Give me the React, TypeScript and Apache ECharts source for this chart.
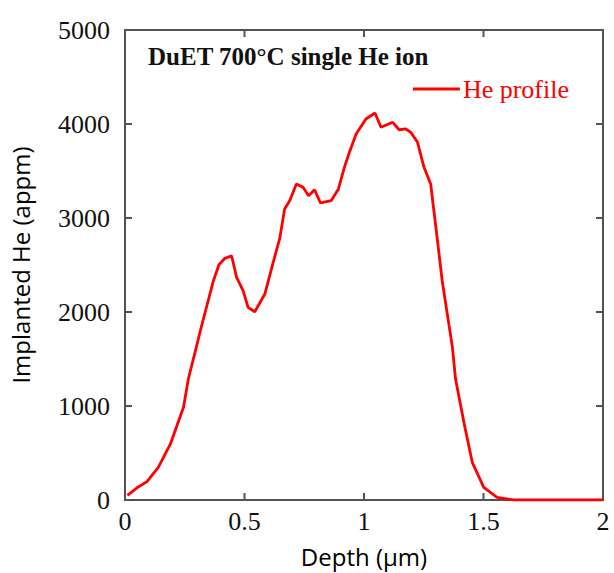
import React, { useEffect, useRef } from "react";
import * as echarts from "echarts";

const depth = [0.01, 0.05, 0.092, 0.14, 0.19, 0.245, 0.265, 0.3, 0.317, 0.37, 0.393, 0.418, 0.446, 0.467, 0.494, 0.515, 0.543, 0.585, 0.62, 0.647, 0.668, 0.689, 0.717, 0.745, 0.768, 0.793, 0.818, 0.8625, 0.893, 0.918, 0.939, 0.967, 1.008, 1.046, 1.071, 1.12, 1.147, 1.175, 1.196, 1.224, 1.251, 1.279, 1.3, 1.328, 1.37, 1.383, 1.418, 1.453, 1.501, 1.557, 1.626, 1.8, 2.0];
const helium = [50, 130, 195, 350, 596, 990, 1287, 1642, 1819, 2333, 2503, 2571, 2599, 2369, 2227, 2050, 2003, 2191, 2529, 2777, 3096, 3184, 3362, 3326, 3237, 3301, 3160, 3184, 3309, 3539, 3699, 3894, 4053, 4117, 3965, 4018, 3939, 3947, 3911, 3805, 3539, 3362, 2918, 2316, 1624, 1287, 826, 401, 135, 29, 0, 0, 0];

const xTicks = [0, 0.5, 1, 1.5, 2];
const yTicks = [0, 1000, 2000, 3000, 4000, 5000];
const seriesName = "He profile";
const titleText = "DuET 700°C single He ion";

export default function App() {
  const ref = useRef<HTMLDivElement>(null);
  useEffect(() => {
    if (!ref.current) return;
    const chart = echarts.init(ref.current, null, { renderer: "svg" });
    const frameColor = "#4f5256";
    const serif = "'Liberation Serif', 'Times New Roman', serif";
    const sans = "'Open Sans', 'Noto Sans', sans-serif";
    const xMin = xTicks[0];
    const xMax = xTicks[xTicks.length - 1];
    const yMin = yTicks[0];
    const yMax = yTicks[yTicks.length - 1];

    // Frame and inward ticks drawn as thin filled rectangles, positioned via the axes' scales
    const renderFrame = (_params: any, api: any) => {
      const [l, b] = api.coord([xMin, yMin]);
      const [r, t] = api.coord([xMax, yMax]);
      const w = 2;
      const tickLen = 7;
      const rect = (x: number, y: number, width: number, height: number) => ({
        type: "rect",
        shape: { x, y, width, height },
        style: { fill: frameColor },
      });
      const children: any[] = [
        rect(l - w / 2, t - w / 2, r - l + w, w),
        rect(l - w / 2, b - w / 2, r - l + w, w),
        rect(l - w / 2, t - w / 2, w, b - t + w),
        rect(r - w / 2, t - w / 2, w, b - t + w),
      ];
      xTicks.slice(1, -1).forEach((v) => {
        const [x] = api.coord([v, yMin]);
        children.push(rect(x - w / 2, b - tickLen, w, tickLen));
        children.push(rect(x - w / 2, t, w, tickLen));
      });
      yTicks.slice(1, -1).forEach((v) => {
        const [, y] = api.coord([xMin, v]);
        children.push(rect(l, y - w / 2, tickLen, w));
        children.push(rect(r - tickLen, y - w / 2, tickLen, w));
      });
      return { type: "group", children };
    };

    chart.setOption({
      animation: false,
      grid: { left: 123, right: 11, top: 30, bottom: 72 },
      title: {
        text: titleText,
        left: 143,
        top: 39,
        textStyle: { fontFamily: serif, fontSize: 25, fontWeight: "bold", color: "#111" },
      },
      legend: {
        data: [seriesName],
        right: 40,
        top: 71,
        itemWidth: 47,
        itemHeight: 3,
        itemGap: 4,
        icon: "rect",
        textStyle: { fontFamily: serif, fontSize: 26, color: "#ff0000", padding: [0, 0, 0, -2] },
      },
      xAxis: {
        type: "value",
        min: xMin,
        max: xMax,
        interval: 0.5,
        name: "Depth (μm)",
        nameLocation: "middle",
        nameGap: 44,
        nameTextStyle: { fontFamily: sans, fontSize: 24, color: "#000" },
        axisLabel: { fontFamily: serif, fontSize: 26, color: "#111", margin: 8 },
        axisLine: { show: false },
        axisTick: { show: false },
        splitLine: { show: false },
      },
      yAxis: {
        type: "value",
        min: yMin,
        max: yMax,
        interval: 1000,
        name: "Implanted He (appm)",
        nameLocation: "middle",
        nameGap: 93,
        nameRotate: 90,
        nameTextStyle: { fontFamily: sans, fontSize: 24, color: "#000" },
        axisLabel: {
          fontFamily: serif, fontSize: 26, color: "#111", margin: 15,
          padding: [0, 0, 9, 0],
          formatter: (v: number) => String(v),
        },
        axisLine: { show: false },
        axisTick: { show: false },
        splitLine: { show: false },
      },
      series: [
        {
          name: "frame",
          type: "custom",
          silent: true,
          z: 1,
          clip: false,
          data: [[xMin, yMin]],
          renderItem: renderFrame,
        },
        {
          name: seriesName,
          type: "line",
          data: depth.map((d, i) => [d, helium[i]]),
          showSymbol: false,
          symbol: "none",
          z: 5,
          lineStyle: { color: "#ff0000", width: 2.8 },
          itemStyle: { color: "#ff0000" },
        },
      ],
    });

    return () => chart.dispose();
  }, []);
  return <div ref={ref} style={{ width: 614, height: 573, position: "absolute", left: 0, top: 0 }} />;
}
